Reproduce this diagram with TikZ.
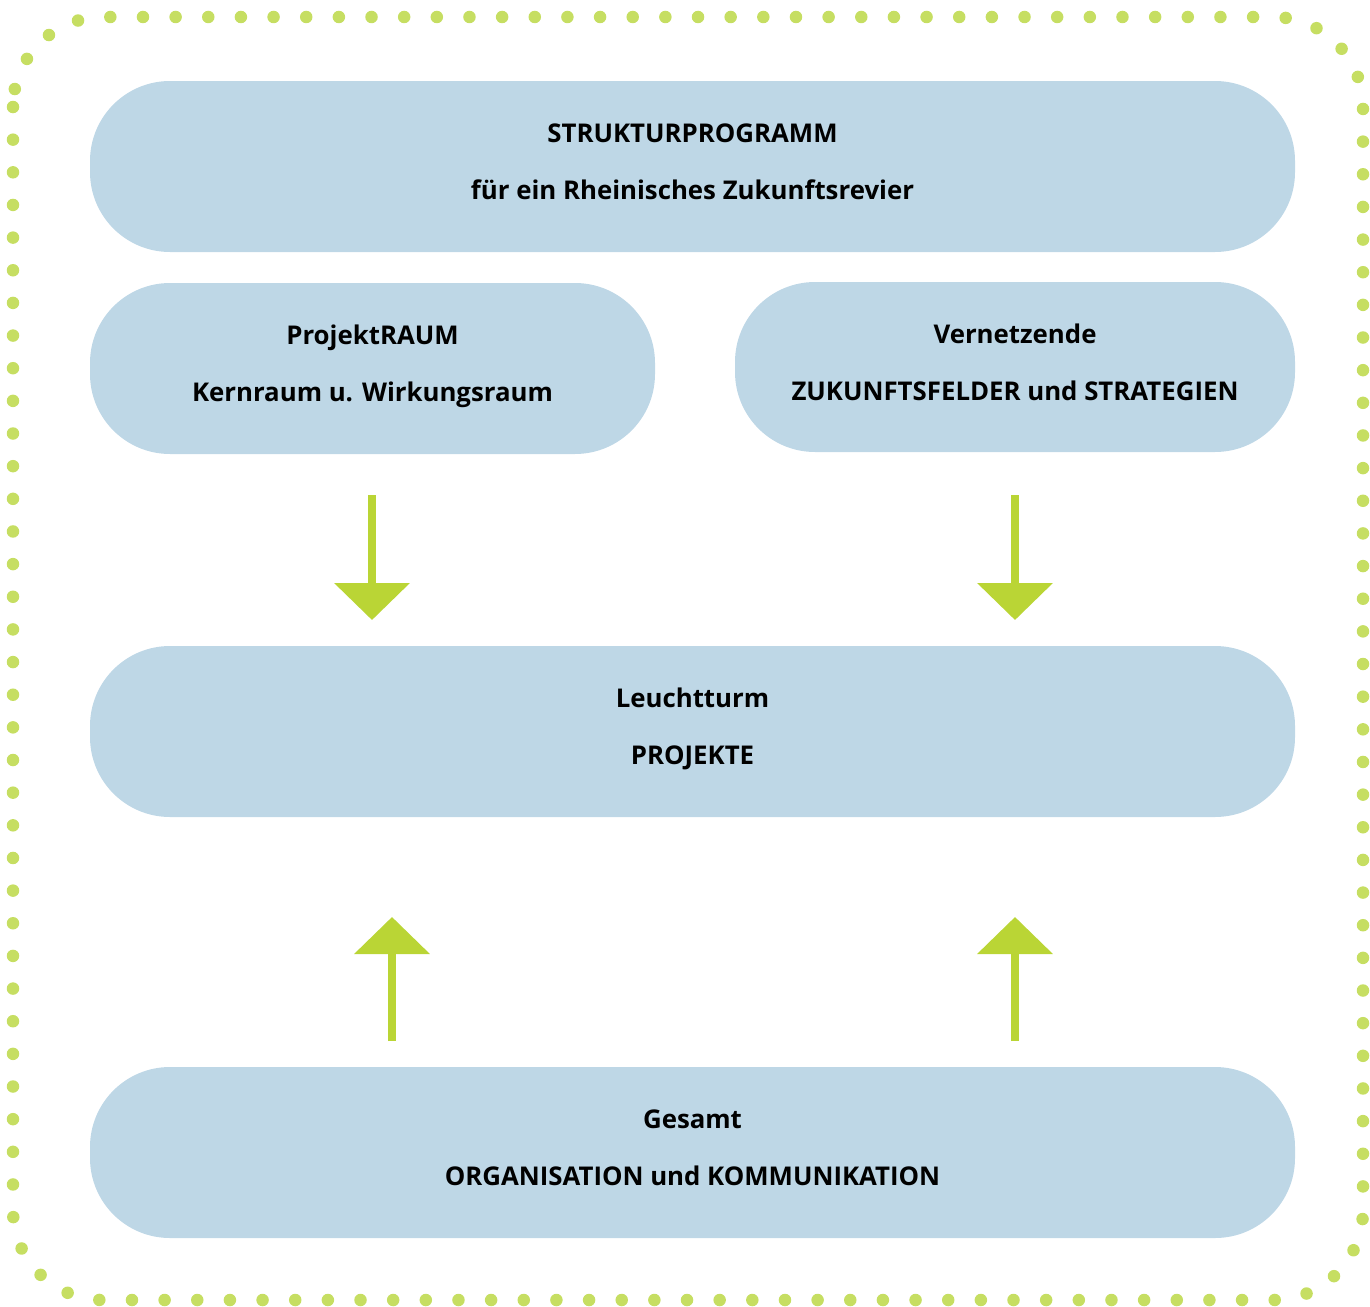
\documentclass[tikz,border=0pt]{standalone}
\usepackage{fontspec}
\setmainfont{Open Sans}
\usetikzlibrary{arrows.meta}
\definecolor{boxblue}{HTML}{BED7E6}
\definecolor{arrowgreen}{HTML}{BAD535}
\definecolor{dotgreen}{HTML}{C6DE62}
% invisible depth under the last line lifts the text block a little
\newcommand{\dropstrut}{\rule[-10pt]{0pt}{10pt}}
\begin{document}
\begin{tikzpicture}[x=1pt,y=-1pt,
  box/.style={fill=boxblue,draw=none,rounded corners=80pt,align=center,
    font=\bfseries\fontsize{25.8}{57}\selectfont,inner sep=0pt},
  flow/.style={draw=arrowgreen,line width=8pt,
    -{Triangle[width=74pt,length=37pt,fill=arrowgreen]}}]
\useasboundingbox (0,0) rectangle (1370,1306);
% dotted frame
\draw[dotgreen,line width=12.5pt,line cap=round,dash pattern=on 0pt off 32.65pt,
  rounded corners=90pt] (13,17) rectangle (1363,1300);
% blocks
\node[box,minimum width=1205pt,minimum height=171pt] (prog) at (692.5,166.5)
  {STRUKTURPROGRAMM\\für ein Rheinisches Zukunftsrevier\dropstrut};
\node[box,minimum width=565pt,minimum height=171pt] (raum) at (372.5,368.5)
  {ProjektRAUM\\Kernraum u. Wirkungsraum\dropstrut};
\node[box,minimum width=560pt,minimum height=170pt] (felder) at (1015,367)
  {Vernetzende\\ZUKUNFTSFELDER und STRATEGIEN\dropstrut};
\node[box,minimum width=1205pt,minimum height=171pt] (proj) at (692.5,731.5)
  {Leuchtturm\\PROJEKTE\dropstrut};
\node[box,minimum width=1205pt,minimum height=171pt] (orga) at (692.5,1152.5)
  {Gesamt\\ORGANISATION und KOMMUNIKATION\dropstrut};
% arrow ends
\coordinate (d1s) at (372,495);  \coordinate (d1e) at (372,620);
\coordinate (d2s) at (1015,495); \coordinate (d2e) at (1015,620);
\coordinate (u1s) at (392,1041); \coordinate (u1e) at (392,917);
\coordinate (u2s) at (1015,1041); \coordinate (u2e) at (1015,917);
\draw[flow] (d1s) -- (d1e);
\draw[flow] (d2s) -- (d2e);
\draw[flow] (u1s) -- (u1e);
\draw[flow] (u2s) -- (u2e);
\end{tikzpicture}
\end{document}
